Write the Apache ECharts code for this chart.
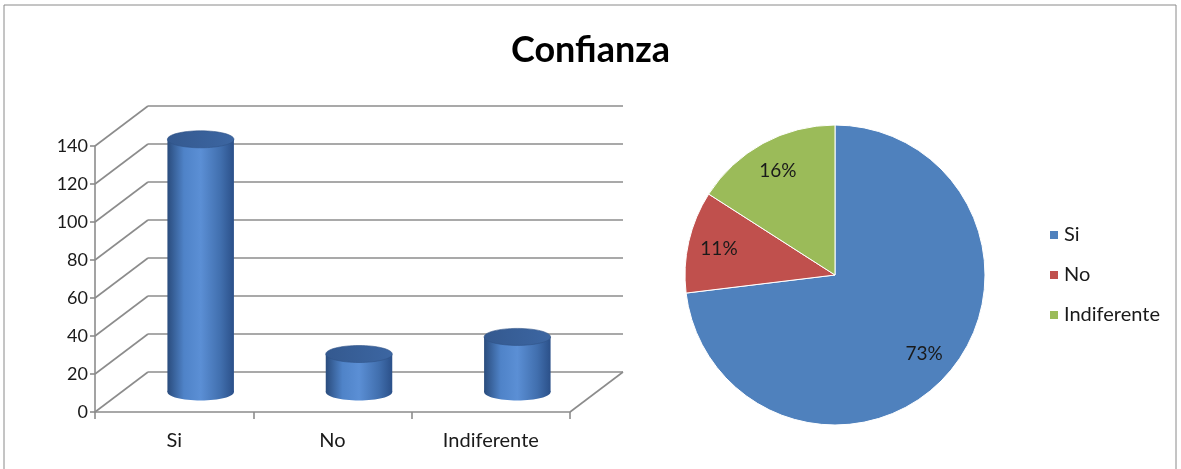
<!DOCTYPE html>
<html>
<head>
<meta charset="utf-8">
<title>Confianza</title>
<script src="https://cdn.jsdelivr.net/npm/echarts@6.0.0/dist/echarts.min.js"></script>
<style>
  html, body { margin: 0; padding: 0; background: #fff; }
  #confianza-chart { width: 1181px; height: 469px; }
</style>
</head>
<body>
<div id="confianza-chart"></div>
<script>
// datos
const categories = ['Si', 'No', 'Indiferente'];
const respuestas = [133, 20, 29];
const yTicks = [0, 20, 40, 60, 80, 100, 120, 140];

// desplazamiento de la profundidad "3D" (px)
const depthX = 53;
const depthY = -40;
const lineGray = '#8c8c8c';

const chartDom = document.getElementById('confianza-chart');
const myChart = echarts.init(chartDom);
let option;

// paredes: diagonal lateral + linea del fondo para cada tick
const renderWalls = (params, api) => {
  const cs = params.coordSys;
  const y = api.coord([0, api.value(1)])[1];
  const style = { stroke: lineGray, lineWidth: 1.6 };
  const children = [
    { type: 'line', shape: { x1: cs.x, y1: y, x2: cs.x + depthX, y2: y + depthY }, style },
    { type: 'line', shape: { x1: cs.x + depthX, y1: y + depthY, x2: cs.x + cs.width + depthX, y2: y + depthY }, style }
  ];
  if (api.value(1) === 0) {
    children.push({ type: 'line', shape: { x1: cs.x + cs.width, y1: y, x2: cs.x + cs.width + depthX, y2: y + depthY }, style });
  }
  return { type: 'group', children };
};

// cilindros
const renderCylinder = (params, api) => {
  const top = api.coord([api.value(0), api.value(1)]);
  const base = api.coord([api.value(0), 0]);
  const cx = top[0] + depthX / 2;
  const yTop = top[1] + depthY / 2;
  const yBase = base[1] + depthY / 2;
  const rx = api.size([1, 0])[0] * 0.21;
  const ry = 8.5;
  const bodyFill = new echarts.graphic.LinearGradient(0, 0, 1, 0, [
    { offset: 0, color: '#2a4c7d' },
    { offset: 0.25, color: '#4f83c8' },
    { offset: 0.5, color: '#5b8fd5' },
    { offset: 0.8, color: '#416fae' },
    { offset: 1, color: '#2b5089' }
  ]);
  const topFill = new echarts.graphic.LinearGradient(0, 0, 1, 0, [
    { offset: 0, color: '#34598f' },
    { offset: 1, color: '#3c66a2' }
  ]);
  return {
    type: 'group',
    children: [
      { type: 'ellipse', shape: { cx: cx, cy: yBase, rx: rx, ry: ry }, style: { fill: bodyFill } },
      { type: 'rect', shape: { x: cx - rx, y: yTop, width: rx * 2, height: yBase - yTop }, style: { fill: bodyFill } },
      { type: 'ellipse', shape: { cx: cx, cy: yTop, rx: rx, ry: ry }, style: { fill: topFill, stroke: '#2f5386', lineWidth: 0.6 } }
    ]
  };
};

const pieData = categories.map((name, i) => ({ name: name, value: respuestas[i] }));

option = {
  animation: false,
  textStyle: { fontFamily: 'Lato, "Noto Sans", sans-serif' },
  color: ['#4f81bd', '#c0504d', '#9bbb59'],
  title: {
    text: 'Confianza',
    left: 'center',
    top: 27,
    textStyle: { fontSize: 36, fontWeight: 'bold', color: '#000', fontFamily: 'Lato, sans-serif' }
  },
  graphic: [
    {
      type: 'rect',
      shape: { x: 4, y: 5, width: 1172, height: 475 },
      style: { fill: 'none', stroke: '#8a8a8a', lineWidth: 1 },
      silent: true
    }
  ],
  legend: {
    orient: 'vertical',
    left: 1043,
    top: 220,
    icon: 'rect',
    itemWidth: 10,
    itemHeight: 10,
    itemGap: 20,
    data: categories,
    textStyle: { fontSize: 20, color: '#1a1a1a' }
  },
  grid: {
    left: 95,
    top: 146,
    width: 475,
    height: 266
  },
  xAxis: {
    type: 'category',
    data: categories,
    axisLine: { lineStyle: { color: lineGray, width: 1.6 } },
    axisTick: { show: true, length: 7, lineStyle: { color: lineGray, width: 1.6 } },
    axisLabel: { fontSize: 20, color: '#1a1a1a', margin: 19 }
  },
  yAxis: {
    type: 'value',
    min: 0,
    max: 140,
    interval: 20,
    axisLine: { show: true, lineStyle: { color: lineGray, width: 1.6 } },
    axisTick: { show: true, length: 5, lineStyle: { color: lineGray, width: 1.6 } },
    splitLine: { show: false },
    axisLabel: { fontSize: 18, color: '#1a1a1a', margin: 7 }
  },
  series: [
    {
      name: 'paredes',
      type: 'custom',
      z: 1,
      silent: true,
      clip: false,
      renderItem: renderWalls,
      encode: { x: 0, y: 1 },
      data: yTicks.map((v) => [0, v])
    },
    {
      name: 'Confianza',
      type: 'custom',
      z: 3,
      clip: false,
      renderItem: renderCylinder,
      encode: { x: 0, y: 1 },
      data: respuestas.map((v, i) => [i, v])
    },
    {
      name: 'pie',
      type: 'pie',
      center: [835, 275],
      radius: [0, 150],
      startAngle: 90,
      clockwise: true,
      label: { show: false },
      labelLine: { show: false },
      emphasis: { disabled: true },
      itemStyle: { borderColor: '#fff', borderWidth: 1 },
      data: pieData
    },
    {
      // solo las etiquetas, un poco mas afuera que el centro
      name: 'pie-labels',
      type: 'pie',
      center: [835, 275],
      radius: [82, 150],
      startAngle: 90,
      clockwise: true,
      silent: true,
      percentPrecision: 0,
      itemStyle: { color: 'transparent' },
      label: { show: true, position: 'inside', formatter: '{d}%', fontSize: 19, color: '#1a1a1a' },
      labelLine: { show: false },
      emphasis: { disabled: true },
      data: pieData
    }
  ]
};

option && myChart.setOption(option);
</script>
</body>
</html>
